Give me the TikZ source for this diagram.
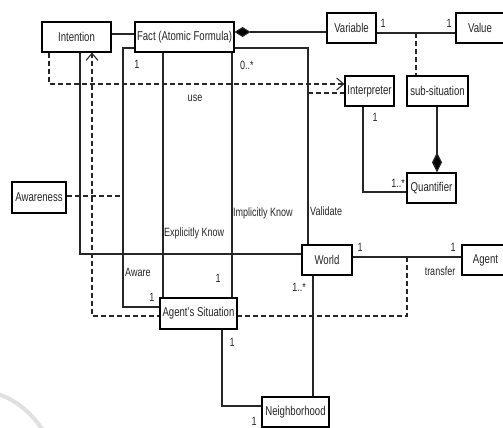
\documentclass[tikz,border=0pt]{standalone}
\usepackage{fontspec}
\setmainfont{Liberation Sans}[FakeStretch=0.75]
\usetikzlibrary{arrows.meta,calc,backgrounds}
\begin{document}
\begin{tikzpicture}[x=1pt,y=-1pt,
  every node/.style={font=\fontsize{12.8}{13}\selectfont, text=black!85},
  cls/.style={draw, line width=1.1pt, fill=white, inner sep=0pt, minimum height=30pt, align=center},
  lnk/.style={line width=1.1pt, draw=black!85},
  dep/.style={line width=1.1pt, draw=black!85, dash pattern=on 5pt off 3pt},
  opentip/.style={-{Straight Barb[length=7pt,width=12pt,line width=1.1pt]}},
  comp/.style={{Diamond[length=16pt,width=10pt,fill=black]}-},
  lab/.style={inner sep=0pt, font=\fontsize{12}{12}\selectfont}]
\useasboundingbox (0,0) rectangle (503,428);
\clip (0,0) rectangle (503,428);

% classes
\node[cls, minimum width=69pt] (Intention) at (76.5,37) {Intention};
\node[cls, minimum width=99pt] (Fact) at (184.5,37) {Fact (Atomic Formula)};
\node[cls, minimum width=49pt] (Variable) at (351.5,28) {Variable};
\node[cls, minimum width=48pt] (Value) at (480,28) {Value};
\node[cls, minimum width=49pt] (Interpreter) at (369.5,91) {Interpreter};
\node[cls, minimum width=61pt] (Sub) at (437.5,91) {sub-situation};
\node[cls, minimum width=49pt] (Quantifier) at (431.5,188) {Quantifier};
\node[cls, minimum width=54pt, minimum height=31pt] (Awareness) at (39,197.5) {Awareness};
\node[cls, minimum width=50pt] (World) at (327,260) {World};
\node[cls, minimum width=47pt] (Agent) at (485.5,260) {Agent};
\node[cls, minimum width=77pt, minimum height=31pt] (AS) at (198.5,313.5) {Agent's Situation};
\node[cls, minimum width=67pt] (Neigh) at (295.5,412) {Neighborhood};

\coordinate (vv) at (416,33);
\coordinate (dd) at (407,257);
\coordinate (vd) at (308,93);
\coordinate (aw) at (123,196);

\begin{scope}[on background layer]
% watermark arc
\draw[line width=4pt, black!12] (-2,394) .. controls (16,400) and (32,413) .. (44,432);
% associations
\draw[lnk] (Intention.east |- 0,34) -- (Fact.west |- 0,34);
\draw[lnk, comp] (Fact.east |- 0,32) -- (Variable.west |- 0,32);
\draw[lnk] (Variable.east |- 0,33) -- (Value.west |- 0,33);
\draw[dep] (vv) -- (Sub.north -| vv);
\draw[lnk] (Fact.east |- 0,48) -| (World.north -| 308,0);
\draw[lnk] (Fact.west |- 0,48) -- (123,48) |- (AS.west |- 0,307);
\draw[lnk] (Fact.south -| 163,0) -- (AS.north -| 163,0);
\draw[lnk] (Fact.south -| 232,0) -- (AS.north -| 232,0);
\draw[lnk] (Intention.south -| 80,0) |- (World.west |- 0,254);
\draw[lnk] (World.east |- 0,257) -- (Agent.west |- 0,257);
\draw[dep, opentip] (dd) -- (407,316) -- (92,316) -- (Intention.south -| 92,0);
\draw[dep, opentip] (Intention.south -| 49,0) |- (Interpreter.west |- 0,84);
\draw[dep] (vd) -- (Interpreter.west |- vd);
\draw[dep] (Awareness.east |- aw) -- (aw);
\draw[lnk] (Interpreter.south -| 363,0) |- (Quantifier.west |- 0,192);
\draw[lnk, {Diamond[length=20pt,width=10pt,fill=black]}-] (Quantifier.north -| 437,0) -- (Sub.south -| 437,0);
\draw[lnk] (World.south -| 313,0) -- (Neigh.north -| 313,0);
\draw[lnk] (AS.south -| 222,0) |- (Neigh.west |- 0,406);
\end{scope}

% labels
\node[lab] (l1) at (383,23) {1};
\node[lab] (l2) at (449,23) {1};
\node[lab, anchor=west] (l3) at (240,65) {0..*};
\node[lab] (l4) at (137,64) {1};
\node[lab] (l5) at (195,98) {use};
\node[lab, anchor=west] (l6) at (164,233) {Explicitly Know};
\node[lab, anchor=west] (l7) at (233,213) {Implicitly Know};
\node[lab, anchor=west] (l8) at (310,211) {Validate};
\node[lab, anchor=west] (l9) at (125,272) {Aware};
\node[lab] (l10) at (152,297) {1};
\node[lab] (l11) at (218,278) {1};
\node[lab] (l12) at (375,117) {1};
\node[lab] (l13) at (398,183) {1..*};
\node[lab] (l14) at (360,247) {1};
\node[lab] (l15) at (453,247) {1};
\node[lab] (l16) at (440,271) {transfer};
\node[lab] (l17) at (299,287) {1..*};
\node[lab] (l18) at (232,342) {1};
\node[lab] (l19) at (254,421) {1};
\end{tikzpicture}
\end{document}
